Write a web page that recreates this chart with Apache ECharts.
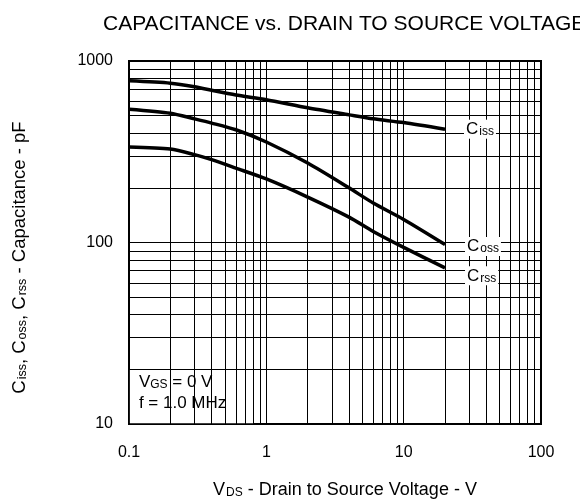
<!DOCTYPE html>
<html>
<head>
<meta charset="utf-8">
<script src="https://cdn.jsdelivr.net/npm/echarts@6/dist/echarts.min.js"></script>
<style>
  html, body { margin: 0; padding: 0; background: #fff; }
  #main { width: 580px; height: 500px; }
</style>
</head>
<body>
<div id="main"></div>
<script>
// VDS points (V)
var vds = [0.1, 0.2, 0.3, 0.4, 0.6, 1, 2, 4, 6, 10, 20];
// capacitances (pF)
var ciss = [778, 755, 722, 690, 650, 612, 552, 505, 480, 458, 421];
var coss = [543, 516, 480, 455, 418, 358, 274, 200, 165, 134, 97.5];
var crss = [336, 327, 305, 286, 257, 224, 178, 138, 115, 94, 72.5];

// minor grid lines of the log paper
var xMinor = [0.2, 0.3, 0.4, 0.5, 0.6, 0.7, 0.8, 0.9, 2, 3, 4, 5, 6, 7, 8, 9, 20, 30, 40, 50, 60, 70, 80, 90];
var yMinor = [20, 30, 40, 50, 60, 70, 80, 90, 200, 300, 400, 500, 600, 700, 800, 900];

var font = '"Liberation Sans", Arial, sans-serif';

function pairs(ys) {
	return vds.map(function (x, i) { return [x, ys[i]]; });
}

var gridLines = [];
xMinor.forEach(function (v) { gridLines.push({ xAxis: v }); });
yMinor.forEach(function (v) { gridLines.push({ yAxis: v }); });

function subRich(big, small) {
	return {
		b: { fontSize: big, fontFamily: font, color: '#000', verticalAlign: 'bottom' },
		s: { fontSize: small, fontFamily: font, color: '#000', verticalAlign: 'bottom', padding: [0, 0, 0, 1] }
	};
}

function curve(name, ys, sub, off) {
	return {
		name: name,
		type: 'line',
		data: pairs(ys),
		smooth: 0.25,
		symbol: 'none',
		z: 5,
		lineStyle: { color: '#000', width: 3.5 },
		endLabel: {
			show: true,
			formatter: '{b|C}{s|' + sub + '}',
			offset: off,
			backgroundColor: '#fff',
			padding: [1, 2, 1, 2],
			rich: subRich(17, 12)
		}
	};
}

var myChart = echarts.init(document.getElementById('main'));
var option = {
	backgroundColor: '#fff',
	animation: false,
	title: {
		text: 'CAPACITANCE vs. DRAIN TO SOURCE VOLTAGE',
		left: 98,
		top: 9,
		textStyle: { fontFamily: font, fontSize: 21, fontWeight: 'normal', color: '#000' }
	},
	grid: {
		left: 129, right: 39, top: 61, bottom: 76,
		outerBoundsMode: 'none',
		containLabel: false,
		show: true, borderColor: '#000', borderWidth: 2
	},
	xAxis: {
		type: 'log',
		logBase: 10,
		min: 0.1,
		max: 100,
		name: '{b|V}{s|DS}{b| - Drain to Source Voltage - V}',
		nameLocation: 'middle',
		nameGap: 57,
		nameTextStyle: { rich: subRich(18, 12), padding: [0, 0, 0, 20] },
		axisLine: { show: false },
		axisTick: { show: false },
		axisLabel: {
			margin: 21,
			fontSize: 16,
			fontFamily: font,
			color: '#000',
			formatter: function (v) { return String(+v.toPrecision(3)); }
		},
		splitLine: { show: true, lineStyle: { color: '#000', width: 1 } }
	},
	yAxis: {
		type: 'log',
		logBase: 10,
		min: 10,
		max: 1000,
		name: '{b|C}{s|iss}{b|, C}{s|oss}{b|, C}{s|rss}{b| - Capacitance - pF}',
		nameLocation: 'middle',
		nameRotate: 90,
		nameGap: 100,
		nameTextStyle: { rich: subRich(18.5, 12.5), padding: [0, 30, 0, 0] },
		axisLine: { show: false },
		axisTick: { show: false },
		axisLabel: {
			margin: 16,
			fontSize: 16,
			fontFamily: font,
			color: '#000',
			formatter: function (v) { return String(+v.toPrecision(3)); }
		},
		splitLine: { show: true, lineStyle: { color: '#000', width: 1 } }
	},
	series: [
		{
			// minor grid
			type: 'line',
			data: [],
			z: 1,
			silent: true,
			markLine: {
				silent: true,
				symbol: 'none',
				animation: false,
				label: { show: false },
				lineStyle: { color: '#000', width: 1, type: 'solid' },
				data: gridLines
			}
		},
		{
			// conditions box
			type: 'line',
			data: [],
			z: 3,
			silent: true,
			markArea: {
				silent: true,
				itemStyle: { color: '#fff' },
				label: {
					show: true,
					position: 'insideTopLeft',
					offset: [4, -5],
					formatter: '{b|V}{s|GS}{b| = 0 V}\n{b|f = 1.0 MHz}',
					rich: {
						b: { fontSize: 17, fontFamily: font, color: '#000', lineHeight: 21, verticalAlign: 'bottom' },
						s: { fontSize: 12, fontFamily: font, color: '#000', lineHeight: 21, verticalAlign: 'bottom' }
					}
				},
				data: [[{ coord: [0.1015, 10.1] }, { coord: [0.8, 20] }]]
			}
		},
		curve('Ciss', ciss, 'iss', [11, 0]),
		curve('Coss', coss, 'oss', [12, 2]),
		curve('Crss', crss, 'rss', [12, 8])
	]
};
myChart.setOption(option);
</script>
</body>
</html>
